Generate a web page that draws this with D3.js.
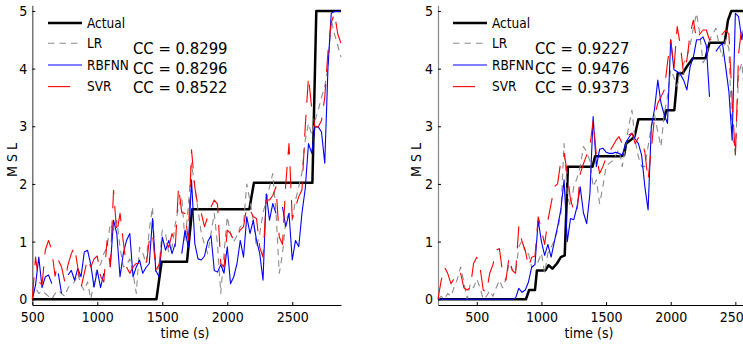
<!DOCTYPE html>
<html>
<head>
<meta charset="utf-8">
<script src="https://cdn.jsdelivr.net/npm/d3@7"></script>
<style>
  html, body { margin: 0; padding: 0; background: #fff; }
  svg { display: block; }
</style>
</head>
<body>
<div id="chart"></div>
<script>
// ---- data ----
const seriesNames = ["Actual", "LR", "RBFNN", "SVR"];
const yTicks = [0, 1, 2, 3, 4, 5];
const xTicks = [500, 1000, 1500, 2000, 2500];

// left panel
const ccLeft = ["0.8299", "0.8296", "0.8522"];
const timeLeft = [500,525,550,575,600,625,650,675,700,725,750,775,800,825,850,875,900,925,950,975,
  1000,1025,1050,1075,1100,1125,1150,1175,1200,1225,1250,1275,1300,1325,1350,1375,1400,1425,1450,1475,
  1500,1525,1550,1575,1600,1625,1650,1675,1700,1725,1750,1775,1800,1825,1850,1875,1900,1925,1950,1975,
  2000,2025,2050,2075,2100,2125,2150,2175,2200,2225,2250,2275,2300,2325,2350,2375,2400,2425,2450,2475,
  2500,2525,2550,2575,2600,2625,2650,2675,2700,2725,2750,2775,2800,2825,2850,2875];
const actualLeftTime = [500,1455,1495,1690,1730,2170,2205,2655,2685,2875];
const actualLeftMsl = [0,0,0.65,0.65,1.56,1.56,2.02,2.02,5,5];
const lrLeft = [0.05,0.2,0.1,0.15,0.1,0.05,0,0.1,0.15,0.1,
  0.05,0.2,0.25,0.3,0.45,0.25,0.15,0.3,0,0.3,
  0.56,0.6,0.79,0.9,1.31,1.2,1.37,0.9,0.56,0.6,
  0.7,0.45,0.1,0.9,0.8,0.62,1.2,1.6,0.45,0.56,
  1.2,1.14,0.8,0.9,1.3,1.6,1.78,1.0,1.6,2.36,
  1.95,1.55,1.15,0.95,0.79,1.14,1.49,0.95,0.1,0.8,
  1.43,1.14,1.0,1.1,1.26,1.3,2.0,1.7,1.37,0.9,
  1.14,1.5,1.7,1.95,2.18,1.5,0.45,0.79,1.37,1.49,
  1.37,1.72,1.95,2.2,2.76,3.05,2.85,3.1,3.28,3.5,
  3.69,4.03,4.84,4.6,4.4,4.2];
const rbfnnLeft = [0,0.25,0.73,0.2,0.39,0.42,0.27,null,0.45,0.1,
  null,0.42,0.5,0.33,0.53,0.39,0.82,0.85,0.6,0.21,
  0.5,0.2,0.45,null,0.56,1.37,1.14,0.39,0.79,1.02,
  1.14,0.39,0.56,0.68,0.45,0.55,0.62,1.4,0.5,0.39,
  1.08,0.85,1.02,0.79,0.97,null,0.79,1.2,0.9,2.07,
  0.97,0.7,0.68,0.75,1.0,1.1,0.5,0.47,0.6,0.45,
  0.91,0.27,0.39,0.62,1.02,0.73,1.43,1.14,1.37,1.02,
  0.79,0.33,1.83,1.37,1.66,1.49,null,1.6,1.26,1.49,
  0.68,1.02,0.91,1.5,1.92,2.7,2.53,2.99,2.99,2.9,
  2.36,4.03,4.96,4.99,4.99,4.99];
const svrLeft = [0,0.73,0.3,0.25,0.85,1.02,0.85,0.4,0.68,0.56,
  0.3,0.6,0.79,0.91,0.55,0.2,0.45,0.7,0.56,0.7,
  0.75,0.4,0.3,1.02,0.56,1.89,1.14,1.49,1.0,0.56,
  0.45,0.56,0.62,0.62,0.6,0.56,1.02,1.14,0.5,0.6,
  0.95,1.02,0.9,1.14,0.9,1.95,1.5,1.49,1.02,2.59,
  1.95,1.6,1.49,1.26,1.43,1.6,1.72,1.65,0.62,0.56,
  1.2,1.14,1.02,1.1,1.2,1.26,1.6,1.55,1.43,1.4,
  0.9,0.73,1.72,1.72,1.8,1.95,1.08,0.95,2.0,2.7,
  1.4,1.6,1.78,1.9,3.0,3.86,3.3,2.99,2.99,3.1,
  3.5,4.3,4.8,4.96,4.6,4.44];

// right panel
const ccRight = ["0.9227", "0.9476", "0.9373"];
const timeRight = [200,225,250,275,300,325,350,375,400,425,450,475,500,525,550,575,600,625,650,675,
  700,725,750,775,800,825,850,875,900,925,950,975,1000,1025,1050,1075,1100,1125,1150,1175,
  1200,1225,1250,1275,1300,1325,1350,1375,1400,1425,1450,1475,1500,1525,1550,1575,1600,1625,1650,1675,
  1700,1725,1750,1775,1800,1825,1850,1875,1900,1925,1950,1975,2000,2025,2050,2075,2100,2125,2150,2175,
  2200,2225,2250,2275,2300,2325,2350,2375,2400,2425,2450,2475,2500,2525,2550,2575];
const actualRightTime = [200,880,905,950,965,1030,1055,1085,1120,1150,1180,1205,1395,1415,1615,1640,1655,
  1690,1720,1750,1950,1965,2028,2054,2093,2132,2171,2269,2300,2417,2443,2469,2590];
const actualRightMsl = [0,0,0.16,0.16,0.5,0.5,0.59,0.53,0.62,0.73,0.76,2.3,2.3,2.48,2.48,2.5,2.7,
  2.76,2.82,3.12,3.12,3.28,3.28,3.92,3.92,4.06,4.18,4.18,4.45,4.45,4.84,5,5];
const lrRight = [0,0.05,0,0.1,0.05,0.21,0.35,0.56,0.3,0,
  0.27,0.2,0.35,0.2,0,0.05,0.15,0.05,0.2,0.33,
  0.2,0.35,0.62,0.5,0.45,0.91,1.02,0.8,0.79,0.55,
  0.6,0.65,0.8,0.45,0.8,0.9,1.02,1.2,1.49,2.7,
  1.8,1.6,1.95,2.1,2.3,2.65,2.55,2.4,1.95,2.07,
  1.66,1.95,2.3,2.36,2.4,2.5,2.6,2.3,2.65,3.0,
  3.28,2.75,2.47,2.3,2.3,2.65,3.0,3.2,2.9,2.65,
  3.22,3.51,3.98,3.85,3.69,3.98,4.09,4.2,4.4,4.7,
  4.96,4.6,4.1,4.2,4.5,4.6,4.7,4.4,4.2,4.5,
  4.35,2.88,2.5,3.9,4.1,3.45];
const rbfnnRight = [0,0,0,0,0,0,0,0,0,0,
  0,0,0,0,0,0,0,0,0,0,
  0,0,0,0,0.02,0.19,0.12,0.16,0.3,0.56,
  0.6,1.37,1.0,0.76,0.95,0.73,1.0,1.26,1.55,2.07,
  1.0,1.4,1.38,1.6,1.95,1.5,1.31,1.83,3.17,2.3,
  2.6,2.62,2.55,2.53,2.53,2.55,2.53,2.5,2.7,2.8,
  2.88,2.78,2.7,2.5,1.95,1.55,2.99,3.3,3.8,3.4,
  3.2,3.05,4.5,3.98,3.95,3.9,3.8,3.63,4.03,4.2,
  4.5,4.5,4.55,4.4,3.51,null,4.3,4.38,4.44,4.03,
  3.6,2.76,4.96,4.9,4.5,4.84];
const svrRight = [0,0.33,0.56,0.45,0.27,0.36,0.33,0.45,0.2,0.16,
  0.2,0.62,0.73,0.55,0.16,0.12,0.45,0.6,0.85,0.88,
  0.45,0.33,0.73,0.5,0.45,1.26,1.0,0.85,0.56,0.73,
  0.75,1.43,1.2,0.95,1.37,1.66,1.95,2.0,2.4,2.53,
  2.2,1.72,1.55,1.49,2.18,2.35,2.5,2.65,3.1,2.5,
  2.18,2.3,2.45,2.55,2.65,2.75,2.82,2.7,2.75,2.85,
  2.88,2.7,2.8,2.75,2.55,2.07,2.6,3.17,3.4,3.51,
  3.63,4.1,4.5,4.0,4.73,4.4,3.9,4.15,4.6,4.84,
  4.5,4.6,4.67,4.67,4.5,4.5,4.5,4.55,4.6,4.67,
  4.6,3.45,2.47,4.26,4.73,4.5];

// ---- styling / layout ----
const width = 743, height = 345;
const font = '"Liberation Sans Narrow","Arial Narrow","DejaVu Sans Condensed","Liberation Sans",Arial,sans-serif';
const seriesStyle = {
  Actual: { color: "#000000", width: 2.5, dash: null },
  LR: { color: "#8c8c8c", width: 1.1, dash: "6.5,5" },
  RBFNN: { color: "#0000ff", width: 1.1, dash: null },
  SVR: { color: "#ff0000", width: 1.1, dash: "22,12" },
};
const plotTop = 5.2, plotBottom = 305;
const legendY = [23, 43.2, 65, 86.6];
const ccY = [47.7, 67.7, 87.3];

const svg = d3.select("#chart").append("svg")
  .attr("width", width).attr("height", height)
  .style("font-family", font);

function drawPanel(p) {
  const x = d3.scaleLinear().domain(p.xDomain).range([p.x0, p.x1]);
  const y = d3.scaleLinear().domain([-0.1, 5.1]).range([plotBottom, plotTop]);
  const g = svg.append("g");

  // axes (box off, ticks inward)
  const yAxis = d3.axisLeft(y).tickValues(yTicks).tickFormat(d3.format("d"))
    .tickSizeInner(-3).tickSizeOuter(0).tickPadding(5);
  const ya = g.append("g").attr("transform", `translate(${p.x0},0)`).call(yAxis);
  ya.select(".domain").attr("stroke", p.yAxisColor).attr("stroke-width", 1.2);
  ya.selectAll(".tick line").attr("stroke", "#000");
  ya.selectAll(".tick text").attr("fill", "#000").style("font-size", "14px").style("font-family", font);

  const xAxis = d3.axisBottom(x).tickValues(xTicks).tickFormat(d3.format("d"))
    .tickSizeInner(-3).tickSizeOuter(0).tickPadding(7);
  const xa = g.append("g").attr("transform", `translate(0,${plotBottom})`).call(xAxis);
  xa.select(".domain").attr("stroke", "#000").attr("stroke-width", 1.2);
  xa.selectAll(".tick line").attr("stroke", "#000");
  xa.selectAll(".tick text").attr("fill", "#000").style("font-size", "14px").style("font-family", font);

  g.append("text").text("time (s)")
    .attr("x", p.xLabelX).attr("y", 338).attr("text-anchor", "middle")
    .style("font-size", "14px");
  g.append("text").text("M S L")
    .attr("transform", `translate(${p.yLabelX},160) rotate(-90)`)
    .attr("text-anchor", "middle")
    .style("font-size", "14px");

  // series
  const line = d3.line()
    .defined(d => d[1] != null)
    .x(d => x(d[0])).y(d => y(d[1]));
  const series = {
    Actual: d3.zip(p.actualTime, p.actualMsl),
    LR: d3.zip(p.time, p.lr),
    RBFNN: d3.zip(p.time, p.rbfnn),
    SVR: d3.zip(p.time, p.svr),
  };
  seriesNames.forEach(name => {
    const s = seriesStyle[name];
    g.append("path").datum(series[name])
      .attr("d", line)
      .attr("fill", "none")
      .attr("stroke", s.color)
      .attr("stroke-width", s.width)
      .attr("stroke-linejoin", "round")
      .attr("stroke-dasharray", s.dash);
  });

  // legend
  const leg = g.append("g");
  seriesNames.forEach((name, i) => {
    const s = seriesStyle[name];
    leg.append("line")
      .attr("x1", p.legendX).attr("x2", p.legendX + 34)
      .attr("y1", legendY[i]).attr("y2", legendY[i])
      .attr("stroke", s.color).attr("stroke-width", s.width)
      .attr("stroke-dasharray", s.dash);
    leg.append("text").text(name)
      .attr("x", p.legendX + 39).attr("y", legendY[i]).attr("dy", "0.36em")
      .style("font-size", "13.5px");
  });
  p.cc.forEach((v, i) => {
    leg.append("text").text(`CC = ${v}`)
      .attr("x", p.ccX).attr("y", ccY[i]).attr("dy", "0.36em")
      .style("font-size", "16.5px");
  });
}

drawPanel({
  time: timeLeft, actualTime: actualLeftTime, actualMsl: actualLeftMsl,
  lr: lrLeft, rbfnn: rbfnnLeft, svr: svrLeft, cc: ccLeft,
  xDomain: [500, 2875], x0: 32.3, x1: 341, yAxisColor: "#555",
  legendX: 48, ccX: 133, xLabelX: 185, yLabelX: 17,
});
drawPanel({
  time: timeRight, actualTime: actualRightTime, actualMsl: actualRightMsl,
  lr: lrRight, rbfnn: rbfnnRight, svr: svrRight, cc: ccRight,
  xDomain: [200, 2590], x0: 438, x1: 747, yAxisColor: "#888",
  legendX: 453, ccX: 535, xLabelX: 589, yLabelX: 421,
});
</script>
</body>
</html>
